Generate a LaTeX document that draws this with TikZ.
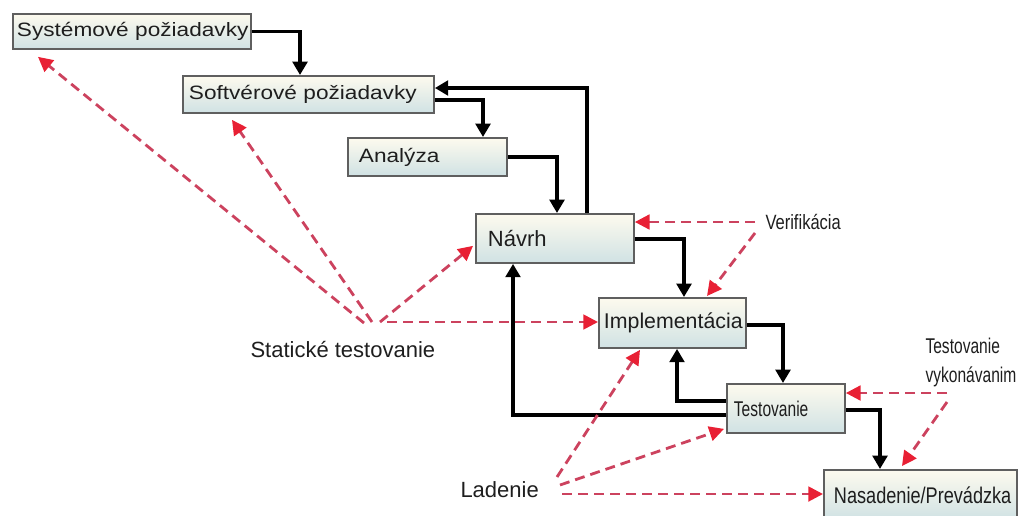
\documentclass[tikz,border=0pt]{standalone}
\usepackage{fontspec}
\setmainfont{Liberation Sans}
\newfontfamily\condfont[FakeStretch=0.8]{Liberation Sans}
\newfontfamily\tallfont[FakeStretch=0.73]{Liberation Sans}
\newfontfamily\widefont[FakeStretch=1.17]{Liberation Sans}
\usetikzlibrary{arrows.meta,calc}

\definecolor{boxtop}{RGB}{253,250,238}
\definecolor{boxbot}{RGB}{208,226,228}
\definecolor{boxline}{RGB}{95,95,95}
\definecolor{dashred}{RGB}{204,66,94}
\definecolor{tipred}{RGB}{232,32,52}
\definecolor{ink}{RGB}{30,30,30}

\tikzset{every picture/.style={line width=0.75pt}}
\tikzset{
  phase/.style={draw=boxline, line width=1.4pt, top color=boxtop, bottom color=boxbot,
    anchor=north west, inner ysep=0pt, align=left, text=ink},
  widetext/.style={font=\widefont\fontsize{14.5}{17}\selectfont},
  labeltext/.style={font=\fontsize{16.5}{20}\selectfont, text=ink},
  narrowtext/.style={font=\tallfont\fontsize{16}{21.75}\selectfont, text=ink},
  flow/.style={draw=black, line width=2.6pt, -{Triangle[length=10pt,width=11pt]}},
  check/.style={draw=dashred, line width=2.1pt, dash pattern=on 7.5pt off 4.5pt,
    -{Triangle[length=11pt,width=11pt,color=tipred]}}
}

\begin{document}
\begin{tikzpicture}[x=0.75pt,y=0.75pt,yscale=-1,xscale=1]
\useasboundingbox (0,0) rectangle (1023,515);
\clip (0,0) rectangle (1023,515);

%Shape: Rectangle
\node[phase, widetext, inner xsep=3pt, text width=172.5pt, minimum height=26.25pt] (sys) at (12,13) {\mbox{Systémové požiadavky}};
%Shape: Rectangle
\node[phase, widetext, inner xsep=4.5pt, text width=179.25pt, minimum height=27.75pt] (soft) at (182,75) {\mbox{Softvérové požiadavky}};
%Shape: Rectangle
\node[phase, widetext, inner xsep=8.25pt, text width=102.75pt, minimum height=28.5pt] (ana) at (347,137) {Analýza};
%Shape: Rectangle
\node[phase, font=\fontsize{16.5}{20}\selectfont, inner xsep=9pt, text width=100.5pt, minimum height=36.75pt] (navrh) at (475,213) {Návrh};
%Shape: Rectangle
\node[phase, font=\fontsize{16}{20}\selectfont, inner xsep=3.75pt, text width=102.75pt, minimum height=37.5pt] (impl) at (598,297) {Implementácia};
%Shape: Rectangle
\node[phase, narrowtext, inner xsep=5.25pt, text width=78pt, minimum height=36.75pt] (test) at (726,383) {Testovanie};
%Shape: Rectangle
\node[phase, font=\condfont\fontsize{17}{20}\selectfont, inner xsep=7.5pt, text width=129.75pt, minimum height=37.5pt] (nas) at (823,469) {Nasadenie/Prevádzka};

% Text Node
\node[labeltext, anchor=base west, inner sep=0pt] (stat) at (250,357) {Statické testovanie};
% Text Node
\node[labeltext, anchor=base west, inner sep=0pt] (lad) at (460,497) {Ladenie};
% Text Node
\node[narrowtext, font=\condfont\fontsize{15.5}{18.75}\selectfont, anchor=base west, inner sep=0pt] (verif) at (765,229) {Verifikácia};
% Text Node
\node[narrowtext, anchor=north west, inner sep=0pt, align=left] (exec) at (925,338) {Testovanie\\vykonávanim};

%Straight Lines
\draw[flow] (sys.east) -| ($(soft.north west)+(118,0)$);
\draw[flow] ($(soft.north east)+(0,25)$) -| ($(ana.north west)+(136,0)$);
\draw[flow] ($(navrh.north west)+(112,0)$) |- ($(soft.north east)+(0,13)$);
\draw[flow] (ana.east) -| ($(navrh.north west)+(82,0)$);
\draw[flow] ($(navrh.north east)+(0,26)$) -| ($(impl.north west)+(86,0)$);
\draw[flow] ($(impl.north east)+(0,28)$) -| ($(test.north west)+(57,0)$);
\draw[flow] ($(test.north west)+(0,18)$) -| ($(impl.south west)+(79,0)$);
\draw[flow] ($(test.north west)+(0,32)$) -| ($(navrh.south west)+(38,0)$);
\draw[flow] ($(test.north east)+(0,27)$) -| ($(nas.north west)+(57,0)$);

% dashed ends
\coordinate (s1) at (364,323);
\coordinate (s2) at (372,322);
\coordinate (s3) at (380,322);
\coordinate (s4) at (387,322);
\coordinate (v1) at (755,222);
\coordinate (v2) at (755,233);
\coordinate (t1) at (947,393);
\coordinate (t2) at (947,402);
\coordinate (l1) at (557,477);
\coordinate (l2) at (560,485);
\coordinate (l3) at (562,494);

%Straight Lines
\draw[check] (s1) -- ($(sys.south west)+(26,7)$);
\draw[check] (s2) -- ($(soft.south west)+(50,6)$);
\draw[check] (s3) -- ($(navrh.south west)+(-2,-18)$);
\draw[check] (s4) -- (s4 -| impl.west);
\draw[check] (v1) -- (v1 -| navrh.east);
\draw[check] (v2) -- ($(impl.north west)+(109,-1)$);
\draw[check] (t1) -- (t1 -| test.east);
\draw[check] (t2) -- ($(nas.north west)+(79,-3)$);
\draw[check] (l1) -- ($(impl.south west)+(42,1)$);
\draw[check] (l2) -- ($(test.south west)+(-2,-5)$);
\draw[check] (l3) -- (l3 -| nas.west);
\end{tikzpicture}
\end{document}
